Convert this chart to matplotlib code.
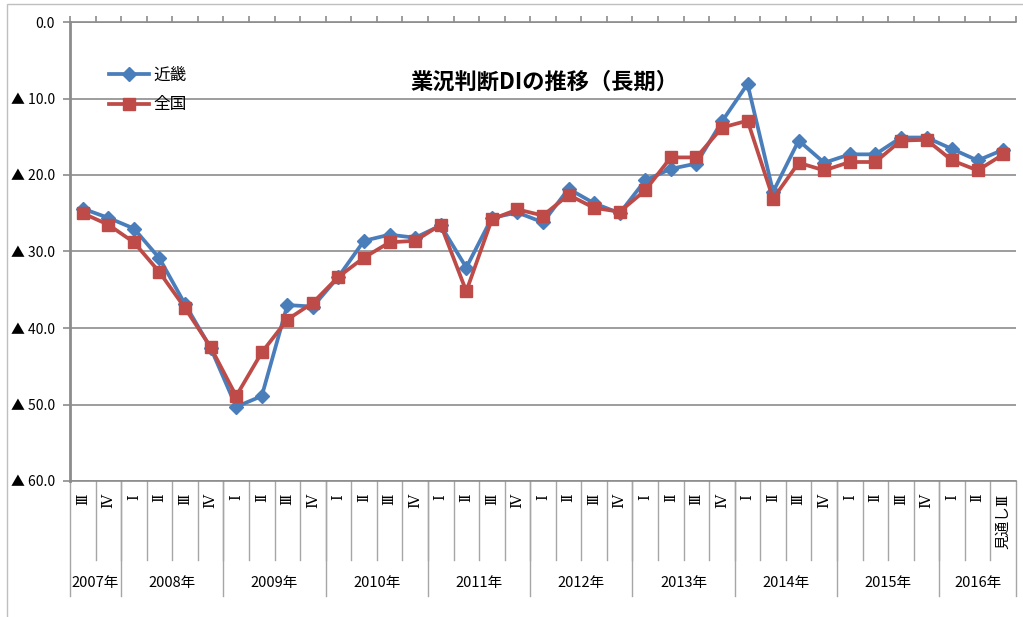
import matplotlib
matplotlib.use("Agg")
from matplotlib import pyplot as plt
from matplotlib import patches
from matplotlib.transforms import blended_transform_factory

plt.rcParams['font.family'] = ['Noto Sans CJK JP', 'DejaVu Sans']

# 四半期ラベル（2007年III期〜2016年III期見通し）
quarters = ['Ⅲ', 'Ⅳ'] + ['Ⅰ', 'Ⅱ', 'Ⅲ', 'Ⅳ'] * 8 + ['Ⅰ', 'Ⅱ', '見通しⅢ']
years = ['2007年', '2008年', '2009年', '2010年', '2011年',
         '2012年', '2013年', '2014年', '2015年', '2016年']
year_counts = [2, 4, 4, 4, 4, 4, 4, 4, 4, 3]

# 近畿
kinki = [24.4, 25.6, 27.0, 30.9, 36.9, 42.6, 50.3, 48.9, 37.0, 37.2,
         33.3, 28.6, 27.8, 28.2, 26.6, 32.1, 25.6, 24.9, 26.2, 21.8,
         23.7, 25.0, 20.7, 19.2, 18.5, 13.0, 8.1, 22.2, 15.5, 18.4,
         17.3, 17.3, 15.1, 15.1, 16.6, 18.1, 16.7]
# 全国
zenkoku = [25.0, 26.5, 28.8, 32.7, 37.4, 42.5, 48.9, 43.2, 38.9, 36.7,
           33.3, 30.8, 28.8, 28.6, 26.5, 35.2, 25.8, 24.5, 25.3, 22.6,
           24.3, 24.8, 22.0, 17.7, 17.7, 13.8, 12.9, 23.1, 18.4, 19.4,
           18.3, 18.3, 15.5, 15.4, 18.1, 19.4, 17.3]

yticks = [0, 10, 20, 30, 40, 50, 60]
ylabels = ['0.0', '▲ 10.0', '▲ 20.0', '▲ 30.0', '▲ 40.0', '▲ 50.0', '▲ 60.0']

blue = '#4A7EBB'
red = '#BE4B48'
gray = '#8C8C8C'

fig = plt.figure(figsize=(10.23, 6.17), dpi=100)
fig.patches.append(patches.Rectangle((7 / 1023, -0.1), 1.2, 1.1 - 4 / 617,
                                     transform=fig.transFigure, fill=False,
                                     edgecolor='#BFBFBF', lw=1))
ax = fig.add_axes([70 / 1023, 1 - 481 / 617, 946 / 1023, 459 / 617])

n = len(quarters)
x = list(range(n))
ax.plot(x, kinki, color=blue, lw=2.7, marker='D', markersize=7.5, label='近畿')
ax.plot(x, zenkoku, color=red, lw=2.7, marker='s', markersize=9, label='全国')

ax.set_xlim(-0.5, n - 0.5)
ax.set_ylim(60, 0)
ax.set_yticks(yticks)
ax.set_yticklabels(ylabels, fontsize=10)
ax.yaxis.grid(True, color=gray, lw=1.2)
ax.tick_params(axis='y', length=5, color=gray, width=1.2, pad=6)

ax.xaxis.tick_top()
ax.set_xticks([i - 0.5 for i in range(n + 1)])
ax.set_xticklabels([])
ax.tick_params(axis='x', length=4, color=gray, width=1.2)

for s in ['left', 'top', 'bottom']:
    ax.spines[s].set_color(gray)
    ax.spines[s].set_linewidth(1.2)
ax.spines['left'].set_linewidth(2)
ax.spines['right'].set_visible(False)

# カテゴリ表（四半期・年）
tr = blended_transform_factory(ax.transData, ax.transAxes)
for i, q in enumerate(quarters):
    ax.text(i, -0.028, q, transform=tr, rotation=90, ha='center', va='top',
            fontsize=10.5, family=['DejaVu Serif', 'Noto Sans CJK JP'])
for i in range(1, n):
    ax.plot([i - 0.5, i - 0.5], [0, -0.172], transform=tr, color='#A6A6A6',
            lw=1, clip_on=False)
start = -0.5
ax.plot([start, start], [0, -0.25], transform=tr, color='#A6A6A6', lw=1, clip_on=False)
for yr, c in zip(years, year_counts):
    end = start + c
    ax.plot([end, end], [0, -0.25], transform=tr, color='#A6A6A6', lw=1, clip_on=False)
    ax.text((start + end) / 2, -0.222, yr, transform=tr, ha='center', va='center',
            fontsize=10.5)
    start = end

ax.text(0.502, 0.869, '業況判断DIの推移（長期）', transform=ax.transAxes,
        ha='center', va='center', fontsize=16, fontweight='bold')

ax.legend(loc='upper left', bbox_to_anchor=(0.025, 0.935), frameon=False,
          fontsize=12, handlelength=2.4, handletextpad=0.3, labelspacing=0.75)

plt.savefig('out.png', dpi=100)
